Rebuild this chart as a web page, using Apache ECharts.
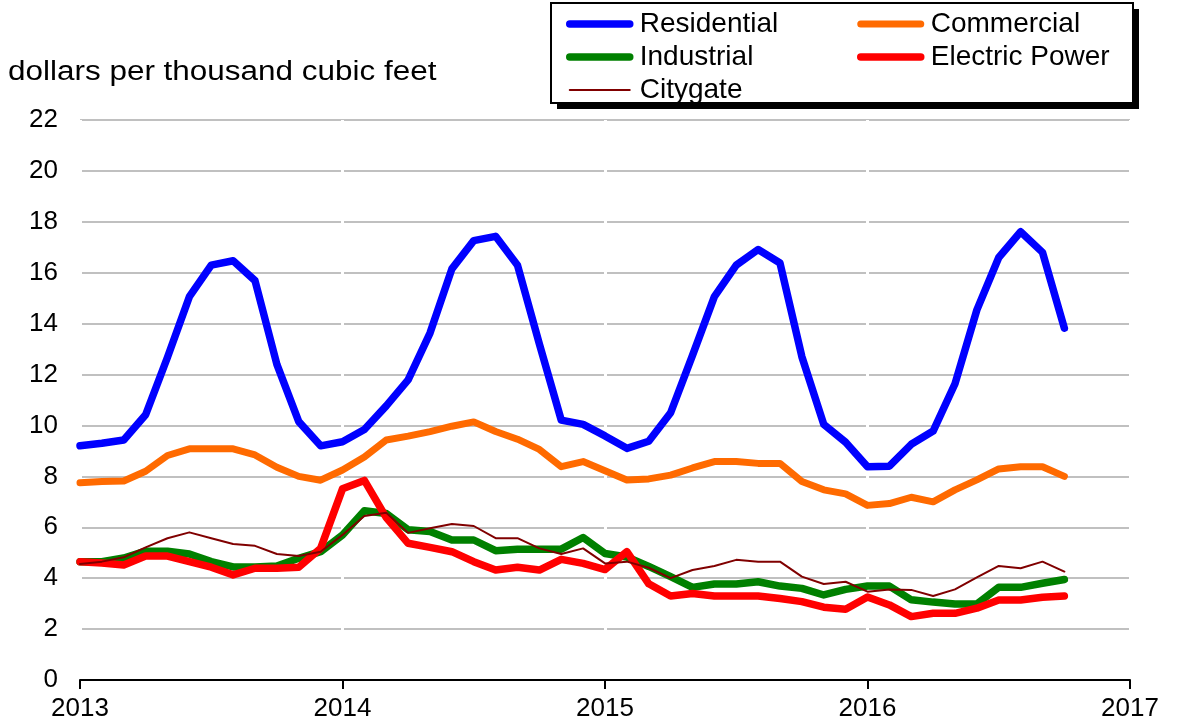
<!DOCTYPE html>
<html>
<head>
<meta charset="utf-8">
<script src="https://cdn.jsdelivr.net/npm/echarts@6/dist/echarts.min.js"></script>
<style>
html,body{margin:0;padding:0;background:#fff;}
#chart{width:1178px;height:724px;}
</style>
</head>
<body>
<div id="chart"></div>
<script>
var months = [
'2013-01','2013-02','2013-03','2013-04','2013-05','2013-06','2013-07','2013-08','2013-09','2013-10','2013-11','2013-12',
'2014-01','2014-02','2014-03','2014-04','2014-05','2014-06','2014-07','2014-08','2014-09','2014-10','2014-11','2014-12',
'2015-01','2015-02','2015-03','2015-04','2015-05','2015-06','2015-07','2015-08','2015-09','2015-10','2015-11','2015-12',
'2016-01','2016-02','2016-03','2016-04','2016-05','2016-06','2016-07','2016-08','2016-09','2016-10','2016-11','2016-12',
'2017-01'];

var residential = [
9.2, 9.3, 9.43, 10.42, 12.68, 15.06, 16.3, 16.47, 15.69, 12.4, 10.15, 9.2,
9.36, 9.84, 10.77, 11.79, 13.63, 16.15, 17.26, 17.43, 16.29, 13.2, 10.21, 10.04,
9.59, 9.1, 9.38, 10.5, 12.75, 15.06, 16.3, 16.91, 16.38, 12.7, 10.04, 9.34,
8.38, 8.4, 9.26, 9.78, 11.64, 14.54, 16.6, 17.61, 16.8, 13.82];

var commercial = [
7.75, 7.8, 7.82, 8.2, 8.82, 9.08, 9.08, 9.08, 8.84, 8.36, 8.0, 7.85,
8.25, 8.76, 9.43, 9.58, 9.76, 9.97, 10.14, 9.76, 9.46, 9.06, 8.38, 8.58,
8.22, 7.86, 7.9, 8.05, 8.33, 8.58, 8.58, 8.51, 8.51, 7.8, 7.47, 7.31,
6.86, 6.93, 7.18, 7.0, 7.47, 7.86, 8.29, 8.38, 8.38, 8.0];

var industrial = [
4.65, 4.65, 4.79, 5.06, 5.06, 4.95, 4.65, 4.44, 4.44, 4.48, 4.78, 5.04,
5.7, 6.65, 6.54, 5.9, 5.83, 5.5, 5.5, 5.08, 5.14, 5.14, 5.14, 5.6,
4.97, 4.83, 4.46, 4.06, 3.64, 3.77, 3.77, 3.86, 3.69, 3.6, 3.34, 3.56,
3.69, 3.69, 3.15, 3.06, 2.99, 2.99, 3.64, 3.64, 3.8, 3.95];

var electricPower = [
4.65, 4.6, 4.52, 4.87, 4.87, 4.65, 4.43, 4.13, 4.39, 4.39, 4.43, 5.17,
7.51, 7.84, 6.38, 5.37, 5.21, 5.04, 4.65, 4.32, 4.43, 4.32, 4.74, 4.58,
4.34, 5.04, 3.78, 3.3, 3.4, 3.3, 3.3, 3.3, 3.2, 3.08, 2.86, 2.78,
3.26, 2.95, 2.49, 2.62, 2.62, 2.82, 3.14, 3.14, 3.25, 3.3];

var citygate = [
4.56, 4.65, 4.82, 5.21, 5.57, 5.8, 5.57, 5.34, 5.27, 4.95, 4.87, 5.04,
5.7, 6.44, 6.57, 5.78, 5.96, 6.13, 6.05, 5.57, 5.57, 5.17, 4.95, 5.17,
4.58, 4.65, 4.41, 4.0, 4.32, 4.48, 4.72, 4.65, 4.65, 4.06, 3.77, 3.86,
3.47, 3.56, 3.54, 3.3, 3.56, 4.03, 4.48, 4.39, 4.65, 4.26];

var yTicks = {min: 0, max: 22, interval: 2};
var unitLabel = 'dollars per thousand cubic feet';

var FONT = 'Liberation Sans, Arial, sans-serif';
var chart = echarts.init(document.getElementById('chart'), null, {renderer: 'canvas'});

function yearTick(idx) { return idx % 12 === 0; }

function lineSeries(name, data, color, width) {
  return {
    name: name, type: 'line', data: data, symbol: 'none', smooth: false,
    lineStyle: {color: color, width: width, cap: 'round', join: 'round'},
    itemStyle: {color: color},
    emphasis: {disabled: true},
    animation: false
  };
}

var legendCommon = {
  orient: 'vertical', top: 5, itemWidth: 60, itemHeight: 26, itemGap: 5,
  textStyle: {fontFamily: FONT, fontSize: 28, color: '#000', padding: [0, 0, 0, 5]},
  itemStyle: {color: 'rgba(0,0,0,0)', borderColor: 'rgba(0,0,0,0)', borderWidth: 0},
  lineStyle: {width: 'inherit', cap: 'round'},
  selectedMode: false, z: 10
};

chart.setOption({
  animation: false,
  backgroundColor: '#fff',
  graphic: [
    {type: 'rect', z: 1, shape: {x: 557, y: 9, width: 582, height: 100}, style: {fill: '#000'}},
    {type: 'rect', z: 2, shape: {x: 551, y: 3, width: 582, height: 100}, style: {fill: '#fff', stroke: '#000', lineWidth: 2}},
    {type: 'text', z: 3, x: 8, y: 73, scaleX: 1.165,
     style: {text: unitLabel, font: '27px ' + FONT, fill: '#000', verticalAlign: 'middle', textAlign: 'left'}}
  ],
  legend: [
    Object.assign({left: 561, data: ['Residential', 'Industrial', 'Citygate']}, legendCommon),
    Object.assign({left: 852, data: ['Commercial', 'Electric Power']}, legendCommon)
  ],
  grid: {left: 80, right: 48, top: 120, bottom: 44, containLabel: false},
  xAxis: {
    type: 'category', data: months, boundaryGap: false,
    axisLine: {show: true, lineStyle: {color: '#000', width: 2}},
    axisTick: {show: true, interval: function (i) { return yearTick(i); }, length: 9, lineStyle: {color: '#000', width: 2}},
    axisLabel: {
      interval: function (i) { return yearTick(i); }, margin: 16,
      fontFamily: FONT, fontSize: 26, color: '#000',
      formatter: function (v) { return v.slice(0, 4); }
    },
    splitLine: {show: true, interval: function (i) { return yearTick(i); }, lineStyle: {color: '#fff', width: 3}}
  },
  yAxis: {
    type: 'value', min: yTicks.min, max: yTicks.max, interval: yTicks.interval,
    axisLine: {show: false}, axisTick: {show: false},
    axisLabel: {margin: 22, fontFamily: FONT, fontSize: 26, color: '#000'},
    splitLine: {show: true, lineStyle: {color: '#c0c0c0', width: 2}}
  },
  series: [
    lineSeries('Residential', residential, '#0000ff', 7.5),
    lineSeries('Commercial', commercial, '#ff6a00', 7),
    lineSeries('Industrial', industrial, '#008000', 7.5),
    lineSeries('Electric Power', electricPower, '#ff0000', 7.5),
    lineSeries('Citygate', citygate, '#800000', 2)
  ]
});
</script>
</body>
</html>
